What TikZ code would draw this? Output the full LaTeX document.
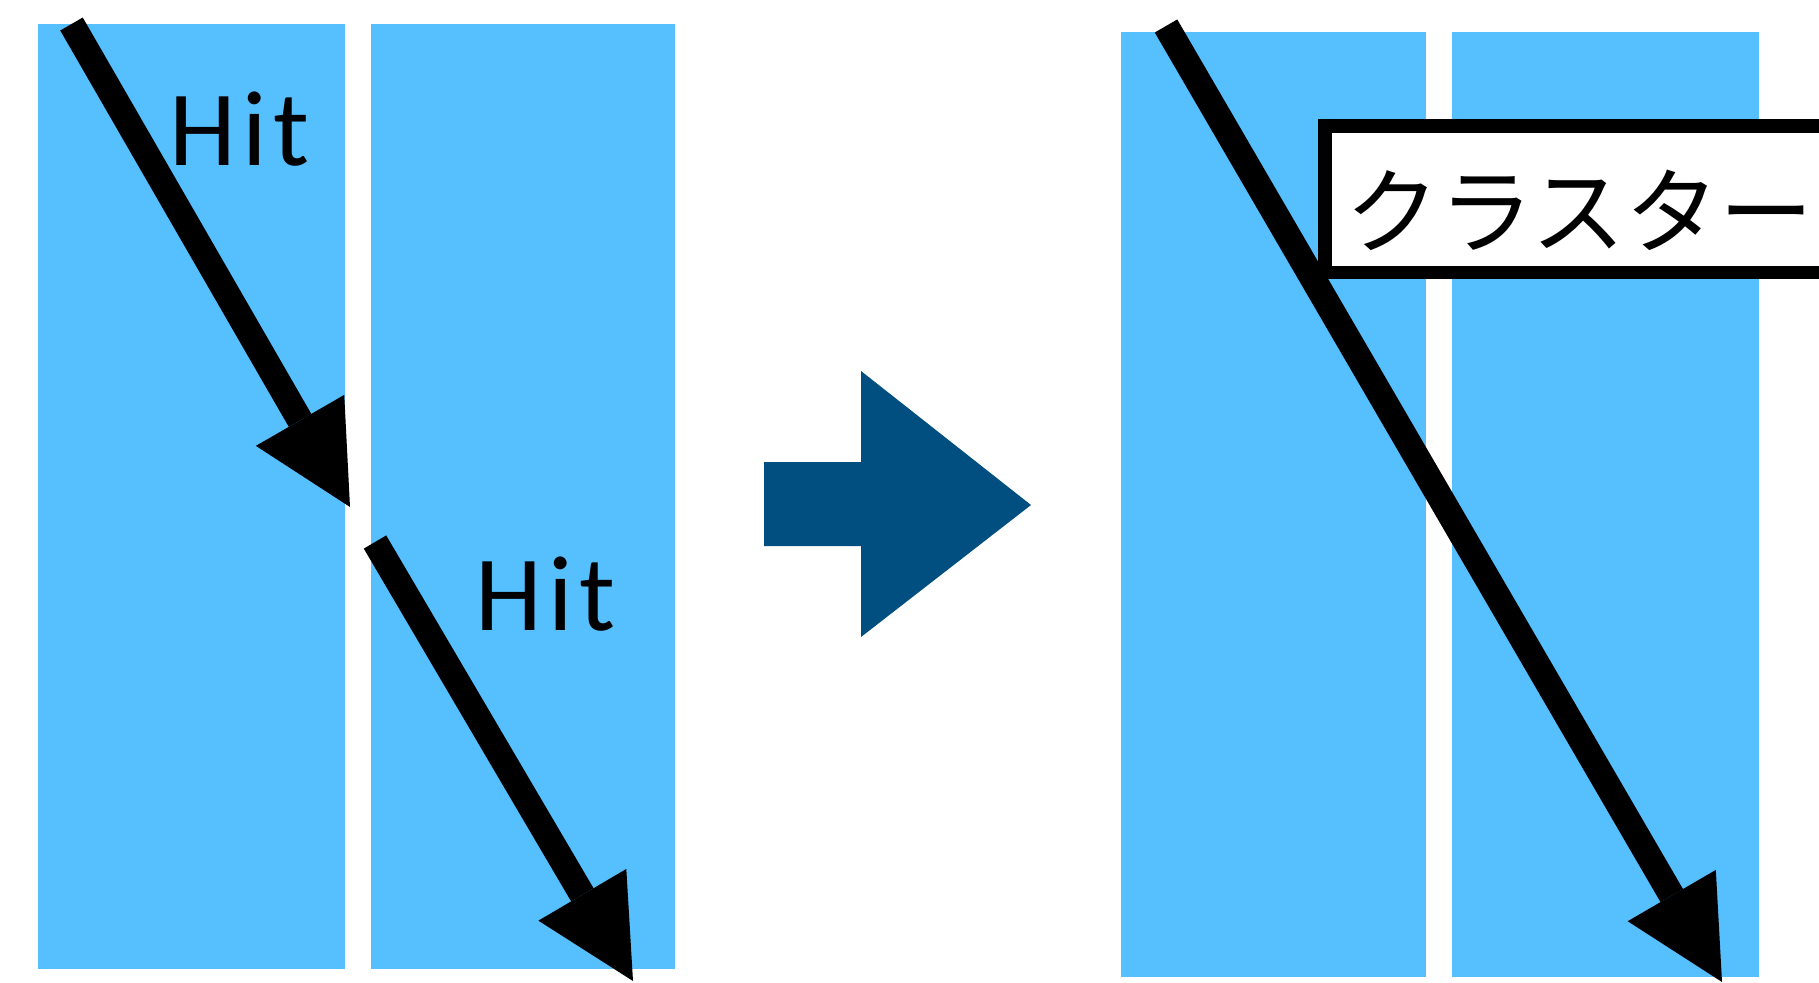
\documentclass[tikz,border=0pt]{standalone}
\usepackage{fontspec}
\setmainfont{Carlito}
\newfontfamily\hitfont{Carlito}[LetterSpace=6]
\newfontfamily\jpfont{Noto Sans CJK JP}
\usetikzlibrary{arrows.meta}
\definecolor{padblue}{RGB}{86,192,255}
\definecolor{navyarrow}{RGB}{0,79,128}
\begin{document}
\begin{tikzpicture}[x=1pt,y=-1pt,
  pad/.style={fill=padblue},
  track/.style={line width=26pt, -{Triangle[length=100pt,width=102pt,line width=0pt]}},
  hit/.style={font=\hitfont\fontsize{107}{110}\selectfont, inner sep=0pt, anchor=base},
  clusterbox/.style={draw, line width=13.5pt, fill=white, minimum width=620pt, minimum height=146.5pt, inner sep=0pt, anchor=north west},
  jplabel/.style={font=\jpfont\fontsize{94}{100}\selectfont, inner sep=0pt, anchor=base west}
]
\useasboundingbox (0,0) rectangle (1819,982);
\clip (0,0) rectangle (1819,982);
\fill[white] (0,0) rectangle (1819,982);
% left pads
\fill[pad] (38,24) rectangle (345,969);
\fill[pad] (371,24) rectangle (675,969);
\coordinate (a1s) at (71.5,24);
\coordinate (a1e) at (350,507);
\coordinate (a2s) at (375,542);
\coordinate (a2e) at (633,981);
\draw[track] (a1s) -- (a1e);
\draw[track] (a2s) -- (a2e);
\node[hit] (hit1) at (239,165) {Hit};
\node[hit] (hit2) at (545,630) {Hit};
% middle arrow
\fill[navyarrow] (764,462) -- (861,462) -- (861,371) -- (1031,505) -- (861,637) -- (861,546) -- (764,546) -- cycle;
% right pads
\fill[pad] (1121,32) rectangle (1426,977);
\fill[pad] (1452,32) rectangle (1759,977);
\coordinate (a3s) at (1166,26);
\coordinate (a3e) at (1722,982);
\draw[track] (a3s) -- (a3e);
\node[clusterbox] (box) at (1318,119) {};
\node[jplabel] (clabel) at (1345,246) {クラスター};
\end{tikzpicture}
\end{document}
